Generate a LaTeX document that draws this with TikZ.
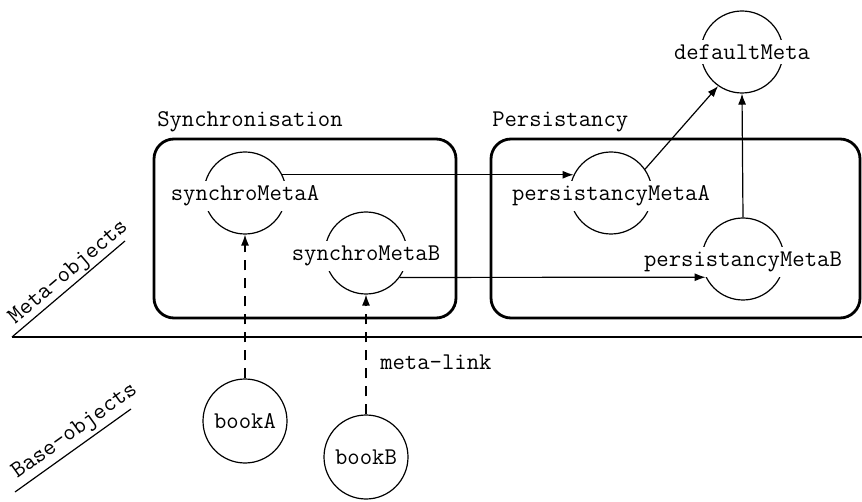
\documentclass[tikz,border=0pt]{standalone}
\usetikzlibrary{arrows.meta}

\begin{document}
\begin{tikzpicture}[x=0.5pt, y=-0.5pt, line width=0.6pt,
    font=\ttfamily\fontsize{12}{13}\selectfont,
    meta/.style={circle, draw, minimum size=41pt, inner sep=0pt},
    book/.style={circle, draw, minimum size=42pt, inner sep=0pt},
    tag/.style={fill=white, inner sep=2.5pt},
    level/.style={anchor=base west, inner sep=0pt},
    group/.style={draw, line width=1.4pt, rounded corners=10pt},
    link/.style={-{Latex[length=5.5pt, width=4pt]}},
    metalink/.style={link, dash pattern=on 5pt off 4pt}]

    \useasboundingbox (0,0) rectangle (862,502);

    % Levels
    \coordinate (O) at (12,337);
    \coordinate (E) at (862,337);
    \coordinate (M) at (125,241);
    \coordinate (B1) at (15,492);
    \coordinate (B2) at (131,409);
    \draw (O) -- (E);
    \draw (O) -- (M);
    \draw (B1) -- (B2);
    \node[level, rotate=40.3] (MetaLabel) at (15,325) {Meta-objects};
    \node[level, rotate=35.6] (BaseLabel) at (17,479) {Base-objects};

    % Groups
    \draw[group] (154,139) rectangle (456,318);
    \draw[group] (491,139) rectangle (860,318);
    \node[anchor=west] (SyncLabel) at (150,122) {Synchronisation};
    \node[anchor=west] (PersLabel) at (485,122) {Persistancy};

    % Meta-objects
    \node[meta] (synchroMetaA) at (245,193) {};
    \node[meta] (synchroMetaB) at (366,253) {};
    \node[meta] (persistancyMetaA) at (611,193) {};
    \node[meta] (persistancyMetaB) at (743,259) {};
    \node[meta] (defaultMeta) at (742,52) {};

    \node[tag] at ([yshift=-1.5]synchroMetaA) {synchroMetaA};
    \node[tag] at ([yshift=-1.5]synchroMetaB) {synchroMetaB};
    \node[tag] at ([yshift=-1.5]persistancyMetaA) {persistancyMetaA};
    \node[tag] at ([yshift=-1.5]persistancyMetaB) {persistancyMetaB};
    \node[tag] at (defaultMeta) {defaultMeta};

    % Base-objects
    \node[book] (bookA) at (245,421) {bookA};
    \node[book] (bookB) at (366,457) {bookB};

    % Links
    \draw[link] (synchroMetaA.26) -- (persistancyMetaA.154);
    \draw[link] (synchroMetaB.-36) -- (persistancyMetaB.206);
    \draw[link] (persistancyMetaA.35) -- (defaultMeta.235);
    \draw[link] (persistancyMetaB.north) -- (defaultMeta.south);

    % Meta-links
    \draw[metalink] (bookA.north) -- (synchroMetaA.south);
    \draw[metalink] (bookB.north) -- (synchroMetaB.south);
    \node[anchor=west] (LinkLabel) at (373,362) {meta-link};

\end{tikzpicture}
\end{document}
